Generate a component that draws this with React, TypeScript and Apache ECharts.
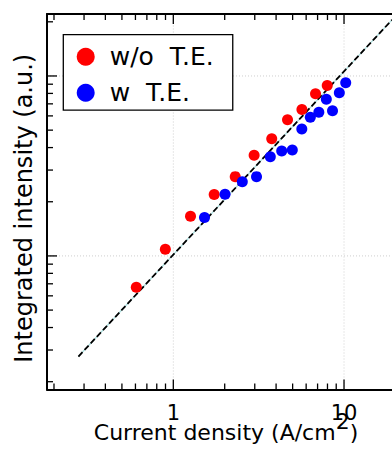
import React, { useEffect, useRef } from "react";
import * as echarts from "echarts";

// Axis extents (log scales)
const X_MIN = 0.182;
const X_MAX = 19.1;
const Y_MIN = 0.181;
const Y_MAX = 22.1;

// Tick values
const xMajorTicks = [1, 10];
const xMinorTicks = [0.2, 0.3, 0.4, 0.5, 0.6, 0.7, 0.8, 0.9, 2, 3, 4, 5, 6, 7, 8, 9];
const yMajorTicks = [1, 10];
const yMinorTicks = [0.2, 0.3, 0.4, 0.5, 0.6, 0.7, 0.8, 0.9, 2, 3, 4, 5, 6, 7, 8, 9, 20];
const xTickLabels = ["1", "10"];

// Series: without T.E.
const redName = "w/o  T.E.";
const redX = [0.607, 0.898, 1.261, 1.736, 2.305, 2.974, 3.772, 4.667, 5.667, 6.808, 7.973];
const redY = [0.670, 1.089, 1.662, 2.196, 2.758, 3.631, 4.484, 5.709, 6.515, 7.963, 8.856];

// Series: with T.E.
const blueName = "w  T.E.";
const blueX = [1.523, 2.009, 2.536, 3.072, 3.7, 4.315, 4.978, 5.659, 6.346, 7.118, 7.877, 8.561, 9.386, 10.23];
const blueY = [1.636, 2.202, 2.584, 2.758, 3.557, 3.831, 3.88, 5.076, 5.895, 6.279, 7.432, 6.417, 8.065, 9.179];

// Guide line (slope ~1)
const fitX = [0.278, 19.1];
const fitY = [0.276, 20.5];

const FONT = "DejaVu Sans";

export default function App() {
  const ref = useRef<HTMLDivElement>(null);
  useEffect(() => {
    if (!ref.current) return;
    const chart = echarts.init(ref.current, undefined, { renderer: "svg" });
    const pair = (xs: number[], ys: number[]) => xs.map((x, i) => [x, ys[i]]);

    const xTickData = [
      ...xMinorTicks.map((v) => [v, Y_MIN, 0]),
      ...xMajorTicks.map((v) => [v, Y_MIN, 1]),
    ];
    const yTickData = [
      ...yMinorTicks.map((v) => [X_MIN, v, 0]),
      ...yMajorTicks.map((v) => [X_MIN, v, 1]),
    ];
    const xGridData = xMajorTicks.map((v) => [v, Y_MIN]);
    const yGridData = yMajorTicks.map((v) => [X_MIN, v]);

    const tickStyle = { stroke: "#000", lineWidth: 1.3 };
    const gridStyle = { stroke: "#cfcfcf", lineWidth: 1, lineDash: [1, 2] };

    chart.setOption({
      animation: false,
      backgroundColor: "#fff",
      grid: { left: 47, right: 0, top: 14, bottom: 64.5, containLabel: false, outerBoundsMode: "none" },
      legend: {
        left: 63.3,
        top: 34.7,
        orient: "vertical",
        z: 10,
        data: [
          { name: redName, icon: "circle" },
          { name: blueName, icon: "circle" },
        ],
        itemWidth: 18,
        itemHeight: 18,
        itemGap: 11,
        backgroundColor: "#fff",
        borderColor: "#000",
        borderWidth: 1.3,
        borderRadius: 0,
        padding: [9.5, 19, 5, 13.4],
        textStyle: { fontSize: 25, fontFamily: FONT, color: "#000", padding: [0, 0, 0, 10] },
      },
      xAxis: [
        {
          type: "log",
          logBase: 10,
          min: X_MIN,
          max: X_MAX,
          position: "bottom",
          axisLine: { show: true, lineStyle: { color: "#000", width: 2 } },
          axisTick: { show: false },
          splitLine: { show: false },
          axisLabel: {
            show: true,
            showMinLabel: false,
            showMaxLabel: false,
            margin: 13,
            fontSize: 21,
            fontFamily: FONT,
            color: "#000",
            formatter: (v: number) => {
              for (let i = 0; i < xMajorTicks.length; i++) {
                if (Math.abs(v - xMajorTicks[i]) < 1e-6 * xMajorTicks[i]) return xTickLabels[i];
              }
              return "";
            },
          },
          name: "{a|Current density (A/cm}{s|2}{a|)}",
          nameLocation: "middle",
          nameGap: 21,
          nameMoveOverlap: false,
          nameTextStyle: {
            padding: [0, 0, 0, 13],
            rich: {
              a: { fontSize: 22, fontFamily: FONT, color: "#000", lineHeight: 33, verticalAlign: "bottom" },
              s: { fontSize: 22, fontFamily: FONT, color: "#000", lineHeight: 12, verticalAlign: "top" },
            },
          },
        },
        {
          type: "log",
          logBase: 10,
          min: X_MIN,
          max: X_MAX,
          position: "top",
          axisLine: { show: true, lineStyle: { color: "#000", width: 2 } },
          axisTick: { show: false },
          axisLabel: { show: false },
          splitLine: { show: false },
        },
      ],
      yAxis: {
        type: "log",
        logBase: 10,
        min: Y_MIN,
        max: Y_MAX,
        axisLine: { show: true, lineStyle: { color: "#000", width: 2 } },
        axisTick: { show: false },
        axisLabel: { show: false },
        splitLine: { show: false },
        name: "Integrated intensity (a.u.)",
        nameLocation: "middle",
        nameGap: 11,
        nameMoveOverlap: false,
        nameTextStyle: { fontSize: 24, fontFamily: FONT, color: "#000", padding: [0, 13, 0, 0] },
      },
      series: [
        {
          type: "custom",
          name: "xgrid",
          xAxisIndex: 0,
          yAxisIndex: 0,
          silent: true,
          z: 0,
          data: xGridData,
          renderItem: (_p: any, api: any) => {
            const b = api.coord([api.value(0), Y_MIN]);
            const t = api.coord([api.value(0), Y_MAX]);
            return { type: "line", shape: { x1: b[0], y1: b[1], x2: t[0], y2: t[1] }, style: gridStyle };
          },
        },
        {
          type: "custom",
          name: "ygrid",
          xAxisIndex: 0,
          yAxisIndex: 0,
          silent: true,
          z: 0,
          data: yGridData,
          renderItem: (_p: any, api: any) => {
            const l = api.coord([X_MIN, api.value(1)]);
            const r = api.coord([X_MAX, api.value(1)]);
            return { type: "line", shape: { x1: l[0], y1: l[1], x2: r[0], y2: r[1] }, style: gridStyle };
          },
        },
        {
          type: "line",
          name: "fitbg",
          data: pair(fitX, fitY),
          showSymbol: false,
          symbol: "none",
          silent: true,
          z: 1,
          lineStyle: { color: "#a9dcdc", width: 1.2, type: "solid" },
        },
        {
          type: "line",
          name: "fit",
          data: pair(fitX, fitY),
          showSymbol: false,
          symbol: "none",
          silent: true,
          z: 2,
          lineStyle: { color: "#000", width: 1.8, type: [6, 3] },
        },
        {
          type: "scatter",
          name: redName,
          data: pair(redX, redY),
          symbol: "circle",
          symbolSize: 11,
          z: 3,
          itemStyle: { color: "#ff0000", opacity: 1 },
        },
        {
          type: "scatter",
          name: blueName,
          data: pair(blueX, blueY),
          symbol: "circle",
          symbolSize: 11,
          z: 4,
          itemStyle: { color: "#0000ff", opacity: 1 },
        },
        {
          type: "custom",
          name: "xticks",
          xAxisIndex: 0,
          yAxisIndex: 0,
          silent: true,
          clip: false,
          z: 5,
          data: xTickData,
          renderItem: (_p: any, api: any) => {
            const v = api.value(0);
            const len = api.value(2) ? 10 : 6;
            const b = api.coord([v, Y_MIN]);
            const t = api.coord([v, Y_MAX]);
            return {
              type: "group",
              children: [
                { type: "line", shape: { x1: b[0], y1: b[1], x2: b[0], y2: b[1] - len }, style: tickStyle },
                { type: "line", shape: { x1: t[0], y1: t[1], x2: t[0], y2: t[1] + len }, style: tickStyle },
              ],
            };
          },
        },
        {
          type: "custom",
          name: "yticks",
          xAxisIndex: 0,
          yAxisIndex: 0,
          silent: true,
          clip: false,
          z: 5,
          data: yTickData,
          renderItem: (_p: any, api: any) => {
            const v = api.value(1);
            const len = api.value(2) ? 10 : 6;
            const l = api.coord([X_MIN, v]);
            return { type: "line", shape: { x1: l[0], y1: l[1], x2: l[0] + len, y2: l[1] }, style: tickStyle };
          },
        },
      ],
    });
    return () => chart.dispose();
  }, []);
  return (
    <div
      ref={ref}
      style={{ position: "absolute", left: 0, top: 0, width: 392, height: 454, background: "#fff" }}
    />
  );
}
